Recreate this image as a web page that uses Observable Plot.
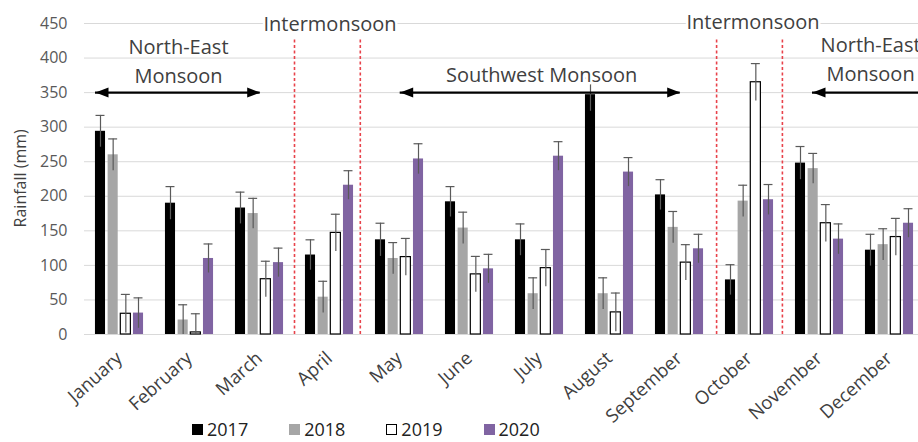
<!DOCTYPE html>
<html>
<head>
<meta charset="utf-8">
<script src="https://cdn.jsdelivr.net/npm/d3@7"></script>
<script src="https://cdn.jsdelivr.net/npm/@observablehq/plot@0.6"></script>
<style>
  html, body { margin: 0; padding: 0; background: #fff; overflow: hidden; }
  #wrap { position: relative; width: 918px; height: 442px; }
  #legend { position: absolute; left: 192px; top: 420px; display: flex; font: 18px "Open Sans", sans-serif; color: #222; line-height: 18px; }
  .item { display: inline-flex; align-items: center; margin-right: 41px; white-space: nowrap; }
  .sw { width: 11px; height: 11px; margin-right: 4px; box-sizing: border-box; flex: none; }
</style>
</head>
<body>
<div id="wrap">
  <div id="chart"></div>
  <div id="legend"></div>
</div>
<script>
// Monthly rainfall (mm) with error margins, 2017–2020
const months = ["January", "February", "March", "April", "May", "June",
                "July", "August", "September", "October", "November", "December"];
const years = ["2017", "2018", "2019", "2020"];

const rain2017 = [294, 190, 183, 115, 137, 192, 137, 347, 202, 79, 248, 122];
const rain2018 = [260, 21, 175, 54, 110, 154, 59, 59, 155, 193, 240, 130];
const rain2019 = [30, 3, 80, 147, 112, 87, 96, 32, 104, 365, 161, 141];
const rain2020 = [31, 110, 104, 216, 254, 95, 258, 235, 124, 195, 138, 161];

const err2017 = [23, 24, 23, 22, 24, 22, 23, 24, 22, 22, 24, 23];
const err2018 = [23, 22, 22, 23, 23, 23, 23, 23, 23, 23, 22, 23];
const err2019 = [28, 27, 26, 27, 27, 26, 27, 28, 26, 27, 27, 27];
const err2020 = [22, 21, 21, 21, 22, 21, 21, 21, 21, 22, 22, 21];

const yTicks = [0, 50, 100, 150, 200, 250, 300, 350, 400, 450];

const rainByYear = [rain2017, rain2018, rain2019, rain2020];
const errByYear = [err2017, err2018, err2019, err2020];
const colors = ["#000000", "#a6a6a6", "#ffffff", "#8064a2"];

const rows = months.flatMap((month, i) =>
  years.map((year, j) => ({month, i, year, j, value: rainByYear[j][i], err: errByYear[j][i]}))
);

// each month occupies one unit on x; the four yearly bars sit side by side inside it
const step = 0.181, half = 0.072, cap = 0.064;
const cx = d => d.i + 0.5 + (d.j - 1.5) * step;

// filled arrowhead pointing right, tip at the origin
const arrowHead = {
  draw(context) {
    context.moveTo(0, 0);
    context.lineTo(-13, -5);
    context.lineTo(-13, 5);
    context.closePath();
  }
};

const seasonArrows = [
  {x1: 0.157, x2: 2.51},
  {x1: 4.51, x2: 8.51},
  {x1: 10.4, x2: 12.6}
];
const boundaries = [3.0, 3.94, 9.03, 9.97];
const seasonLabels = [
  {text: "North-East\nMonsoon", x: 1.343, y: 399},
  {text: "Intermonsoon", x: 3.507, y: 452},
  {text: "Southwest Monsoon", x: 6.53, y: 379},
  {text: "Intermonsoon", x: 9.55, y: 456},
  {text: "North-East\nMonsoon", x: 11.23, y: 401}
];

const chart = Plot.plot({
  width: 918,
  height: 442,
  marginLeft: 84,
  marginRight: 0,
  marginTop: 23,
  marginBottom: 108,
  style: {fontFamily: "Open Sans, sans-serif", background: "#fff", overflow: "hidden"},
  x: {type: "linear", domain: [0, 834 / 70]},
  y: {domain: [0, 450]},
  color: {domain: years, range: colors},
  marks: [
    Plot.gridY(yTicks, {stroke: "#d9d9d9", strokeOpacity: 1, strokeWidth: 1}),
    Plot.axisY(yTicks, {tickSize: 0, tickPadding: 17, fontSize: 16, color: "#595959", label: null}),
    Plot.axisX(months.map((_, i) => i + 0.5), {
      tickFormat: d => months[Math.floor(d)],
      tickRotate: -42, tickSize: 0, tickPadding: 21, fontSize: 18.5, color: "#404040", label: null
    }),
    Plot.text(["Rainfall (mm)"], {x: 0, y: 226, dx: -64, rotate: -90, fontSize: 16, fill: "#404040"}),
    Plot.ruleX(boundaries, {x: d => d, y1: 0, y2: 428, stroke: "#e8424a", strokeWidth: 1.6, strokeDasharray: "3,2.5"}),
    Plot.rectY(rows.filter(d => d.year !== "2019"), {
      x1: d => cx(d) - half, x2: d => cx(d) + half, y: "value", fill: "year"
    }),
    Plot.rectY(rows.filter(d => d.year === "2019"), {
      x1: d => cx(d) - half, x2: d => cx(d) + half, y: "value", fill: "#ffffff", stroke: "#000", strokeWidth: 1.2
    }),
    Plot.ruleX(rows, {x: cx, y1: d => Math.max(0, d.value - d.err), y2: d => d.value + d.err, stroke: "#5a5a5a", strokeWidth: 1.2}),
    Plot.ruleY(rows, {y: d => d.value + d.err, x1: d => cx(d) - cap, x2: d => cx(d) + cap, stroke: "#5a5a5a", strokeWidth: 1.2}),
    Plot.ruleY(seasonArrows, {y: 350, x1: "x1", x2: "x2", stroke: "#000", strokeWidth: 2.2}),
    Plot.dot(seasonArrows, {x: "x2", y: 350, symbol: arrowHead, fill: "#000", stroke: null}),
    Plot.dot(seasonArrows, {x: "x1", y: 350, symbol: arrowHead, rotate: 180, fill: "#000", stroke: null}),
    Plot.text(seasonLabels, {
      x: "x", y: "y", text: "text", fontSize: 20, lineHeight: 1.45, fill: "#404040",
      stroke: "#fff", strokeWidth: 5, paintOrder: "stroke"
    })
  ]
});
document.getElementById("chart").appendChild(chart);

// legend laid over the bottom strip, left of the month labels
const legend = d3.select("#legend");
years.forEach((year, j) => {
  const item = legend.append("span").attr("class", "item");
  item.append("span").attr("class", "sw")
    .style("background", colors[j])
    .style("border", year === "2019" ? "1.3px solid #000" : "none");
  item.append("span").text(year);
});
</script>
</body>
</html>
